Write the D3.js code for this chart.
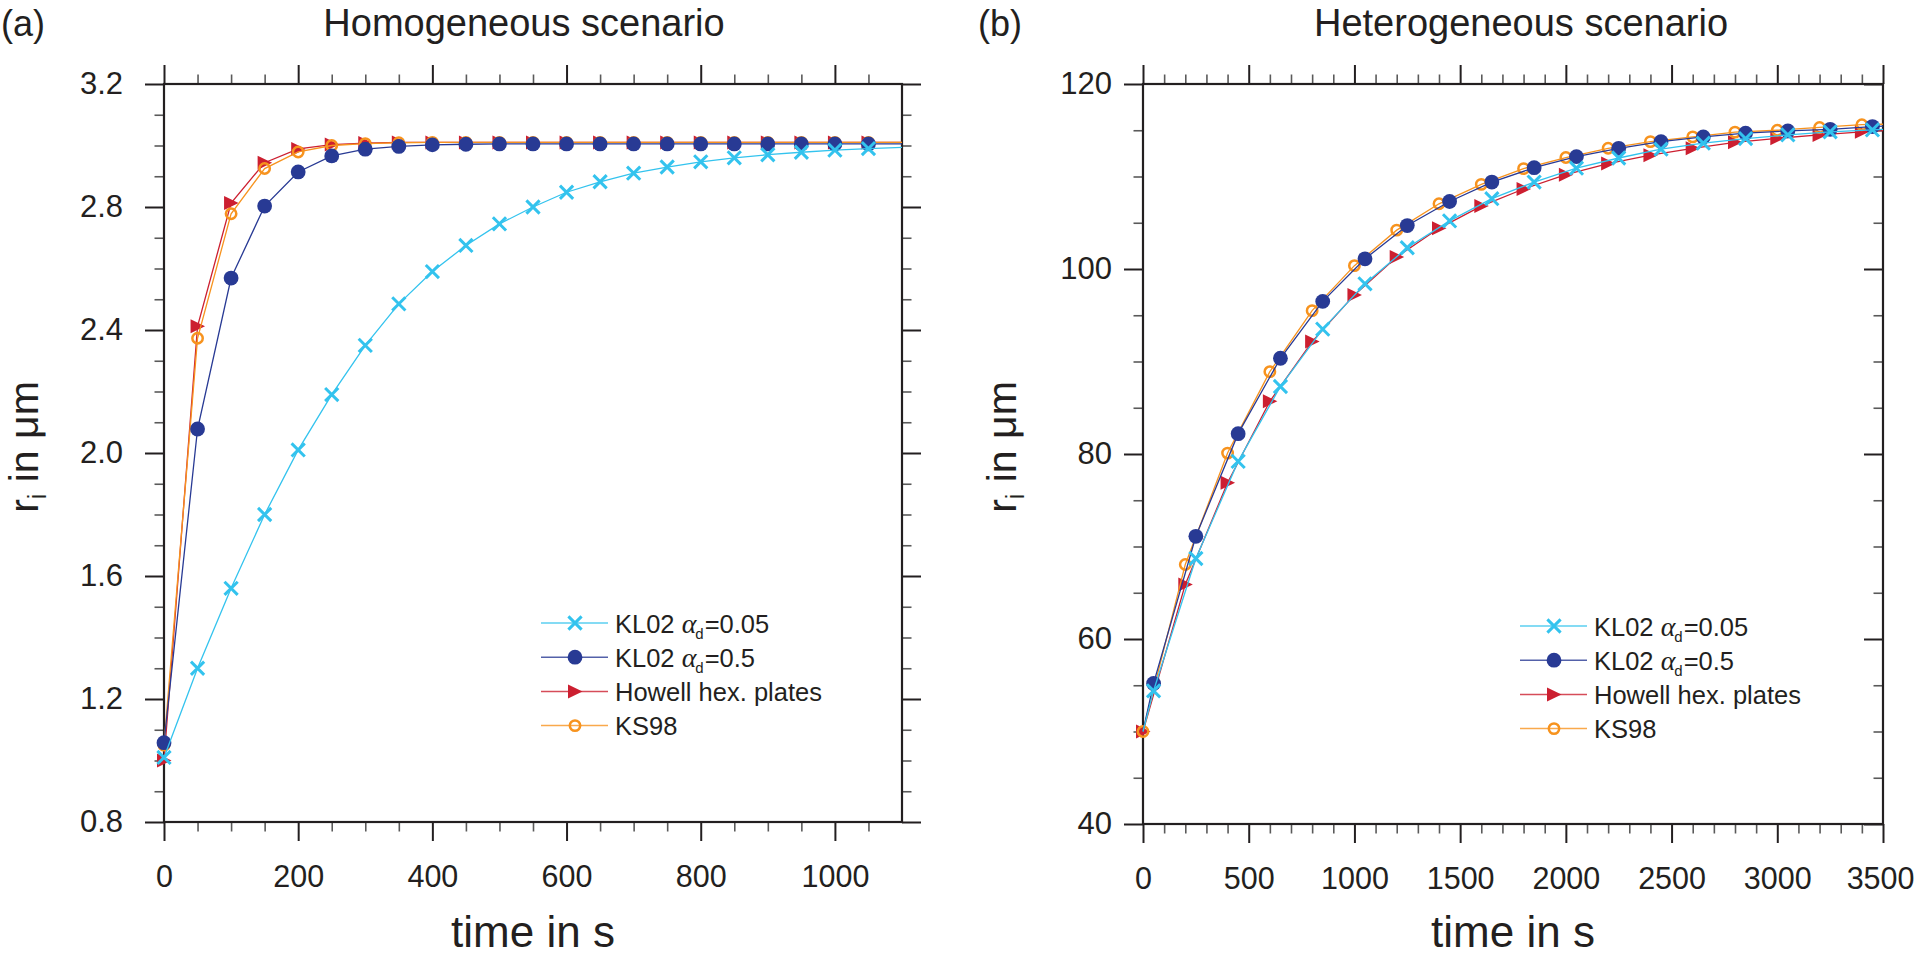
<!DOCTYPE html>
<html>
<head>
<meta charset="utf-8">
<title>Ice crystal growth: homogeneous vs heterogeneous</title>
<script src="https://cdn.jsdelivr.net/npm/d3@7"></script>
<style>
  body { margin: 0; background: #fff; }
  svg { display: block; font-family: "Liberation Sans", Arial, Helvetica, sans-serif; }
</style>
</head>
<body>
<svg id="chart" width="1915" height="959"></svg>
<script>
// ---- data ----

// (a) homogeneous scenario, r_i in um, every 50 s
const timesA = [0, 50, 100, 150, 200, 250, 300, 350, 400, 450, 500, 550, 600, 650, 700, 750, 800, 850, 900, 950, 1000, 1050, 1100];
const kl005A = [1.01, 1.30, 1.56, 1.80, 2.01, 2.19, 2.35, 2.485, 2.59, 2.675, 2.745, 2.80, 2.848, 2.882, 2.91, 2.93, 2.947, 2.96, 2.97, 2.978, 2.985, 2.99, 2.994];
const kl05A = [1.058, 2.078, 2.569, 2.803, 2.914, 2.966, 2.988, 2.997, 3.002, 3.004, 3.005, 3.005, 3.005, 3.005, 3.005, 3.005, 3.005, 3.005, 3.005, 3.005, 3.005, 3.005, 3.005];
const howellA = [1.00, 2.412, 2.813, 2.944, 2.989, 3.003, 3.008, 3.01, 3.01, 3.01, 3.01, 3.01, 3.01, 3.01, 3.01, 3.01, 3.01, 3.01, 3.01, 3.01, 3.01, 3.01, 3.01];
const ks98A = [1.05, 2.373, 2.778, 2.925, 2.979, 3.00, 3.006, 3.009, 3.01, 3.01, 3.01, 3.01, 3.01, 3.01, 3.01, 3.01, 3.01, 3.01, 3.01, 3.01, 3.01, 3.01, 3.01];
const unmarkedA = [1100];

// (b) heterogeneous scenario
const timesBkl = [0, 50, 250, 450, 650, 850, 1050, 1250, 1450, 1650, 1850, 2050, 2250, 2450, 2650, 2850, 3050, 3250, 3450, 3500];
const kl005B = [50, 54.4, 68.7, 79.2, 87.3, 93.5, 98.4, 102.3, 105.2, 107.6, 109.4, 110.9, 112.0, 112.95, 113.6, 114.1, 114.5, 114.83, 115.04, 115.1];
const kl05B = [50, 55.2, 71.1, 82.2, 90.35, 96.5, 101.1, 104.7, 107.3, 109.4, 110.95, 112.15, 113.05, 113.77, 114.28, 114.68, 114.93, 115.1, 115.4, 115.45];
const timesB = [0, 200, 400, 600, 800, 1000, 1200, 1400, 1600, 1800, 2000, 2200, 2400, 2600, 2800, 3000, 3200, 3400, 3500];
const howellB = [50, 65.9, 76.9, 85.7, 92.15, 97.2, 101.3, 104.4, 106.8, 108.65, 110.2, 111.4, 112.3, 113.05, 113.7, 114.13, 114.5, 114.83, 114.95];
const ks98B = [50, 68.06, 80.1, 88.9, 95.5, 100.36, 104.2, 107.05, 109.15, 110.85, 112.05, 113.05, 113.77, 114.28, 114.8, 115.0, 115.3, 115.6, 115.65];
const unmarkedBkl = [0, 3500];
const unmarkedB = [3500];

// axes ticks
const xMajorA = [0, 200, 400, 600, 800, 1000];
const xMinorA = [50, 100, 150, 250, 300, 350, 450, 500, 550, 650, 700, 750, 850, 900, 950, 1050];
const yMajorA = [0.8, 1.2, 1.6, 2.0, 2.4, 2.8, 3.2];
const yMinorA = [0.9, 1.0, 1.1, 1.3, 1.4, 1.5, 1.7, 1.8, 1.9, 2.1, 2.2, 2.3, 2.5, 2.6, 2.7, 2.9, 3.0, 3.1];
const xMajorB = [0, 500, 1000, 1500, 2000, 2500, 3000, 3500];
const xMinorB = [100, 200, 300, 400, 600, 700, 800, 900, 1100, 1200, 1300, 1400, 1600, 1700, 1800, 1900,
                 2100, 2200, 2300, 2400, 2600, 2700, 2800, 2900, 3100, 3200, 3300, 3400];
const yMajorB = [40, 60, 80, 100, 120];
const yMinorB = [45, 50, 55, 65, 70, 75, 85, 90, 95, 105, 110, 115];

const legendNames = ["KL02 |0.05", "KL02 |0.5", "Howell hex. plates", "KS98"];

// ---- styles ----
const ink = "#231f20";
const styles = {
  kl005: { color: "#33c3ee", marker: "cross" },
  kl05: { color: "#283a94", marker: "dot" },
  howell: { color: "#cc1f30", marker: "tri" },
  ks98: { color: "#f7931e", marker: "ring" }
};

const W = 1915;
const svg = d3.select("#chart");

function drawMarker(sel, type, color) {
  if (type === "cross") {
    sel.append("path").attr("d", "M-6.6,-6.6L6.6,6.6M-6.6,6.6L6.6,-6.6")
      .attr("stroke", color).attr("stroke-width", 3).attr("fill", "none");
  } else if (type === "dot") {
    sel.append("circle").attr("r", 7.4).attr("fill", color);
  } else if (type === "tri") {
    sel.append("path").attr("d", "M-7,-7L7.5,0L-7,7Z").attr("fill", color);
  } else {
    sel.append("circle").attr("r", 5.2).attr("fill", "none")
      .attr("stroke", color).attr("stroke-width", 2.5);
  }
}

function styleAxis(g, fontSize, major) {
  g.select(".domain").remove();
  g.attr("font-size", fontSize).attr("font-family", null);
  g.selectAll("line").attr("stroke", major ? ink : "#5a5a5a").attr("stroke-width", major ? 2 : 1.6);
  g.selectAll("text").attr("fill", ink);
}

function drawPanel(p) {
  const x = d3.scaleLinear().domain(p.xDomain).range([p.left, p.right]);
  const y = d3.scaleLinear().domain(p.yDomain).range([p.bottom, p.top]);
  const g = svg.append("g");

  // ticks: bottom / top
  const bx = g.append("g").attr("transform", `translate(0,${p.bottom})`)
    .call(d3.axisBottom(x).tickValues(p.xMajor).tickSize(19).tickPadding(24).tickFormat(d3.format("d")));
  styleAxis(bx, 30.5, true);
  // keep the last label inside the page
  bx.selectAll("text").each(function () {
    const b = this.getBBox();
    const tx = x(d3.select(this.parentNode).datum());
    const over = tx + b.x + b.width - (W - 1);
    if (over > 0) d3.select(this).attr("dx", -over);
  });
  styleAxis(g.append("g").attr("transform", `translate(0,${p.bottom})`)
    .call(d3.axisBottom(x).tickValues(p.xMinor).tickSize(9.5).tickFormat("")), 31, false);
  styleAxis(g.append("g").attr("transform", `translate(0,${p.top})`)
    .call(d3.axisTop(x).tickValues(p.xMajor).tickSize(19).tickFormat("")), 31, true);
  styleAxis(g.append("g").attr("transform", `translate(0,${p.top})`)
    .call(d3.axisTop(x).tickValues(p.xMinor).tickSize(9.5).tickFormat("")), 31, false);

  // ticks: left / right
  const ly = g.append("g").attr("transform", `translate(${p.left},0)`)
    .call(d3.axisLeft(y).tickValues(p.yMajor).tickSize(19).tickPadding(p.yPad).tickFormat(d3.format(p.yFmt)));
  styleAxis(ly, 31, true);
  styleAxis(g.append("g").attr("transform", `translate(${p.left},0)`)
    .call(d3.axisLeft(y).tickValues(p.yMinor).tickSize(9.5).tickFormat("")), 31, false);
  styleAxis(g.append("g").attr("transform", `translate(${p.right},0)`)
    .call(d3.axisRight(y).tickValues(p.yMajor).tickSize(19 * p.rightDir).tickFormat("")), 31, true);
  styleAxis(g.append("g").attr("transform", `translate(${p.right},0)`)
    .call(d3.axisRight(y).tickValues(p.yMinor).tickSize(9.5 * p.rightDir).tickFormat("")), 31, false);

  // frame
  g.append("rect")
    .attr("x", p.left).attr("y", p.top)
    .attr("width", p.right - p.left).attr("height", p.bottom - p.top)
    .attr("fill", "none").attr("stroke", ink).attr("stroke-width", 2.2);

  // series (drawing order as in the figure: red, orange, blue, cyan on top)
  const line = d3.line().x(d => x(d[0])).y(d => y(d[1]));
  p.series.forEach(s => {
    const st = styles[s.key];
    const pts = s.t.map((t, i) => [t, s.v[i]]);
    g.append("path").datum(pts)
      .attr("d", line).attr("fill", "none")
      .attr("stroke", st.color).attr("stroke-width", 1.3);
    g.append("g").selectAll("g")
      .data(pts.filter(d => !s.unmarked.includes(d[0])))
      .join("g")
      .attr("transform", d => `translate(${x(d[0])},${y(d[1])})`)
      .each(function () { drawMarker(d3.select(this), st.marker, st.color); });
  });

  // titles
  g.append("text").attr("x", p.titleX).attr("y", 36)
    .attr("text-anchor", "middle").attr("font-size", 38).attr("fill", ink)
    .text(p.title);
  g.append("text").attr("x", p.tagX).attr("y", 36)
    .attr("font-size", 36).attr("fill", ink).text(p.tag);
  g.append("text").attr("x", (p.left + p.right) / 2).attr("y", 947)
    .attr("text-anchor", "middle").attr("font-size", 44).attr("fill", ink)
    .text("time in s");

  const yt = g.append("text")
    .attr("transform", `translate(${p.yTitleX},447) rotate(-90)`)
    .attr("text-anchor", "middle").attr("font-size", 41).attr("fill", ink);
  yt.append("tspan").text("r");
  yt.append("tspan").attr("font-size", 25).attr("dy", 8).text("i");
  yt.append("tspan").attr("dy", -8).text(" in \u03bcm");

  // legend
  const lg = g.append("g").attr("transform", `translate(${p.legX},${p.legY})`);
  ["kl005", "kl05", "howell", "ks98"].forEach((k, i) => {
    const st = styles[k];
    const row = lg.append("g").attr("transform", `translate(0,${i * 34.2})`);
    row.append("line").attr("x1", 0).attr("x2", 67).attr("y1", 0).attr("y2", 0)
      .attr("stroke", st.color).attr("stroke-width", 1.5).attr("stroke-opacity", 0.8);
    drawMarker(row.append("g").attr("transform", "translate(34,0)"), st.marker, st.color);
    const t = row.append("text").attr("x", 74).attr("y", 9.5)
      .attr("font-size", 25.5).attr("fill", ink);
    const parts = legendNames[i].split("|");
    if (parts.length === 2) {
      t.append("tspan").text(parts[0]);
      t.append("tspan").attr("font-family", "'Liberation Serif', 'DejaVu Serif', serif")
        .attr("font-style", "italic").attr("font-size", 28).text("\u03b1");
      t.append("tspan").attr("font-size", 15).attr("dy", 6).attr("dx", -1).text("d");
      t.append("tspan").attr("dy", -6).attr("dx", 1).text("=" + parts[1]);
    } else {
      t.text(parts[0]);
    }
  });
}

drawPanel({
  left: 164, right: 902, top: 84, bottom: 822,
  xDomain: [0, 1100], yDomain: [0.8, 3.2],
  xMajor: xMajorA, xMinor: xMinorA, yMajor: yMajorA, yMinor: yMinorA,
  yFmt: ".1f", yPad: 22, rightDir: 1,
  title: "Homogeneous scenario", titleX: 524, tag: "(a)", tagX: 1,
  yTitleX: 38, legX: 541, legY: 623,
  series: [
    { key: "howell", t: timesA, v: howellA, unmarked: unmarkedA },
    { key: "ks98", t: timesA, v: ks98A, unmarked: unmarkedA },
    { key: "kl05", t: timesA, v: kl05A, unmarked: unmarkedA },
    { key: "kl005", t: timesA, v: kl005A, unmarked: unmarkedA }
  ]
});

drawPanel({
  left: 1143, right: 1883, top: 84, bottom: 824,
  xDomain: [0, 3500], yDomain: [40, 120],
  xMajor: xMajorB, xMinor: xMinorB, yMajor: yMajorB, yMinor: yMinorB,
  yFmt: "d", yPad: 12, rightDir: -1,
  title: "Heterogeneous scenario", titleX: 1521, tag: "(b)", tagX: 978,
  yTitleX: 1016, legX: 1520, legY: 626,
  series: [
    { key: "howell", t: timesB, v: howellB, unmarked: unmarkedB },
    { key: "ks98", t: timesB, v: ks98B, unmarked: unmarkedB },
    { key: "kl05", t: timesBkl, v: kl05B, unmarked: unmarkedBkl },
    { key: "kl005", t: timesBkl, v: kl005B, unmarked: unmarkedBkl }
  ]
});
</script>
</body>
</html>
